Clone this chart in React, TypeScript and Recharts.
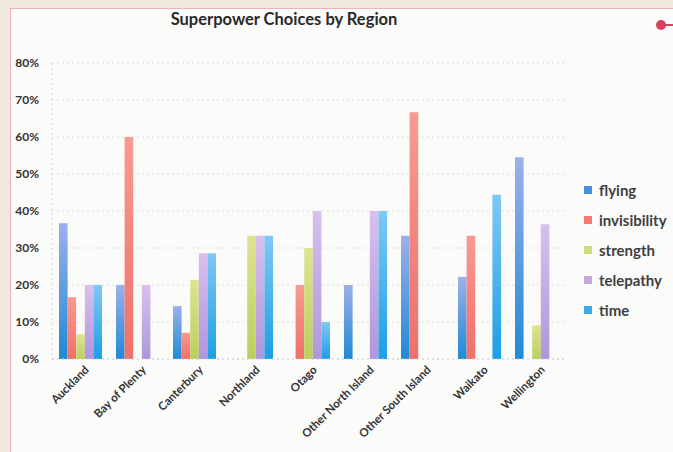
import { BarChart, Bar, XAxis, YAxis, CartesianGrid } from "recharts";

const regions = [
  "Auckland",
  "Bay of Plenty",
  "Canterbury",
  "Northland",
  "Otago",
  "Other North Island",
  "Other South Island",
  "Waikato",
  "Wellington",
];

// share of respondents in each region (0..1)
const flying = [0.367, 0.2, 0.143, 0, 0, 0.2, 0.333, 0.222, 0.545];
const invisibility = [0.167, 0.6, 0.071, 0, 0.2, 0, 0.667, 0.333, 0];
const strength = [0.067, 0, 0.214, 0.333, 0.3, 0, 0, 0, 0.091];
const telepathy = [0.2, 0.2, 0.286, 0.333, 0.4, 0.4, 0, 0, 0.364];
const time = [0.2, 0, 0.286, 0.333, 0.1, 0.4, 0, 0.444, 0];

const yTicks = [0, 0.1, 0.2, 0.3, 0.4, 0.5, 0.6, 0.7, 0.8];

const series = [
  { key: "flying", top: "#9db0ea", bottom: "#1f8ad6", swatch: "#4a8fdc" },
  { key: "invisibility", top: "#f89a92", bottom: "#f0706a", swatch: "#f27a72" },
  { key: "strength", top: "#dfe392", bottom: "#b9d05e", swatch: "#cfdc78" },
  { key: "telepathy", top: "#d8c0ee", bottom: "#b096dc", swatch: "#c4a8e4" },
  { key: "time", top: "#80c8f4", bottom: "#1c9fe4", swatch: "#3aaae8" },
];

const data = regions.map((region, i) => ({
  region,
  flying: flying[i],
  invisibility: invisibility[i],
  strength: strength[i],
  telepathy: telepathy[i],
  time: time[i],
}));

const font = "Lato, 'Open Sans', sans-serif";

function RegionTick({ x, y, payload }: any) {
  return (
    <g transform={`translate(${x},${y})`}>
      <text
        x={4}
        y={9}
        textAnchor="end"
        transform="rotate(-45)"
        fontSize={11.5}
        fontWeight={700}
        fill="#333"
        fontFamily={font}
      >
        {payload.value}
      </text>
    </g>
  );
}

// legend sits beside the plot, so it is kept out of the chart's layout
function SideLegend() {
  return (
    <div style={{ position: "absolute", left: 584, top: 175, fontFamily: font }}>
      {series.map((s) => (
        <div
          key={s.key}
          style={{ display: "flex", alignItems: "center", height: 30, whiteSpace: "nowrap" }}
        >
          <span
            style={{ width: 8, height: 8, background: s.swatch, marginRight: 7, display: "inline-block" }}
          />
          <span style={{ fontSize: 15, fontWeight: 700, color: "#404040" }}>{s.key}</span>
        </div>
      ))}
    </div>
  );
}

export default function App() {
  return (
    <div
      style={{
        position: "absolute",
        left: 0,
        top: 0,
        width: 673,
        height: 452,
        overflow: "hidden",
        background: "#f1e9df",
      }}
    >
      <div
        style={{
          position: "absolute",
          left: 10,
          top: 8,
          right: 0,
          bottom: 0,
          background: "#fbfbfa",
          borderLeft: "1px solid #eab4bc",
          borderTop: "1px solid #eab4bc",
        }}
      />
      <div
        style={{
          position: "absolute",
          left: 0,
          width: 568,
          top: 9,
          textAlign: "center",
          fontFamily: font,
          fontWeight: 700,
          fontSize: 16.5,
          color: "#2a2a2a",
        }}
      >
        Superpower Choices by Region
      </div>
      <div
        style={{
          position: "absolute",
          left: 656,
          top: 20,
          width: 10,
          height: 10,
          borderRadius: 5,
          background: "#d8405e",
        }}
      />
      <div style={{ position: "absolute", left: 664, top: 24, width: 12, height: 2, background: "#d8405e" }} />
      <div style={{ position: "absolute", left: 0, top: 0 }}>
        <BarChart
          width={673}
          height={452}
          data={data}
          margin={{ top: 63, right: 108, bottom: 0, left: 0 }}
          barGap={0}
          barSize={8.6}
        >
          <defs>
            {series.map((s) => (
              <linearGradient key={s.key} id={`grad-${s.key}`} x1="0" y1="0" x2="0" y2="1">
                <stop offset="0%" stopColor={s.top} />
                <stop offset="100%" stopColor={s.bottom} />
              </linearGradient>
            ))}
          </defs>
          <CartesianGrid vertical={false} stroke="#dedede" strokeDasharray="2 3" />
          <XAxis
            dataKey="region"
            interval={0}
            height={93}
            tick={<RegionTick />}
            tickLine={false}
            axisLine={{ stroke: "#d4d4d4", strokeDasharray: "2 3" }}
          />
          <YAxis
            width={52}
            domain={[0, 0.8]}
            ticks={yTicks}
            tickFormatter={(v: number) => `${Math.round(v * 100)}%`}
            tickLine={false}
            tickMargin={7}
            axisLine={{ stroke: "#d4d4d4", strokeDasharray: "2 3" }}
            tick={{ fontSize: 12, fontWeight: 700, fill: "#333", fontFamily: font }}
          />
          {series.map((s) => (
            <Bar key={s.key} dataKey={s.key} fill={`url(#grad-${s.key})`} isAnimationActive={false} />
          ))}
        </BarChart>
      </div>
      <SideLegend />
    </div>
  );
}
